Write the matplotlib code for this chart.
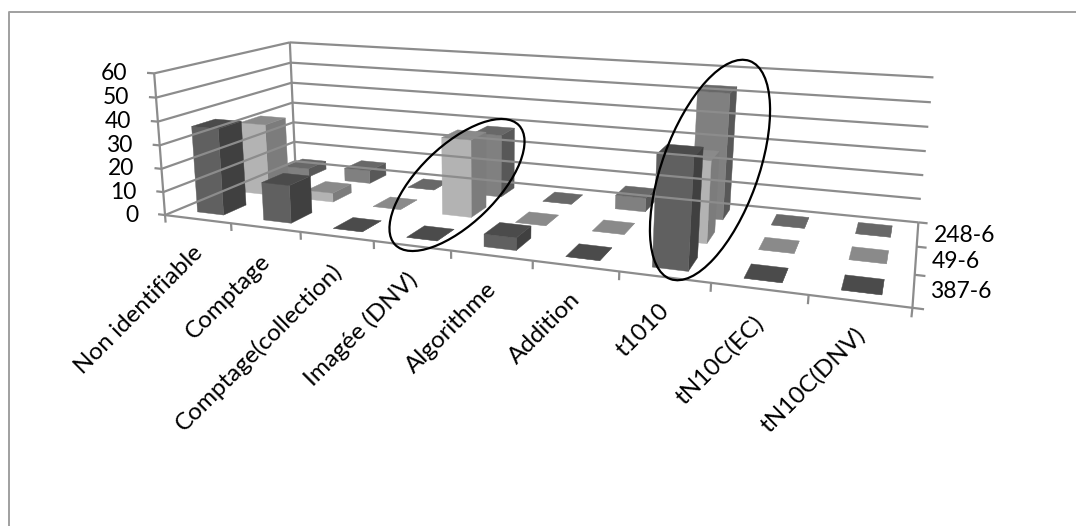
import matplotlib
matplotlib.use('Agg')
import matplotlib.pyplot as plt
from matplotlib.patches import Ellipse
import numpy as np

plt.rcParams['font.family'] = ['Lato', 'DejaVu Sans']

# Data
categories = ['Non identifiable', 'Comptage', 'Comptage(collection)', 'Imagée (DNV)',
              'Algorithme', 'Addition', 't1010', 'tN10C(EC)', 'tN10C(DNV)']
series_names = ['387-6', '49-6', '248-6']
serie_387 = [37, 16, 0, 0, 5, 0, 42, 0, 0]
serie_49 = [32, 4, 0, 33, 0, 0, 33, 0, 0]
serie_248 = [4, 6, 0, 28, 0, 6, 53, 0, 0]
z_ticks = [0, 10, 20, 30, 40, 50, 60]
z_max = 60

# front, top, side colours of each series
colores = [('#606060', '#4b4b4b', '#404040'),
           ('#b3b3b3', '#8a8a8a', '#7c7c7c'),
           ('#808080', '#686868', '#585858')]
color_eje = '#8c8c8c'

# Camera fitted on the chart box corners and ticks: (x, y, z) in box units -> pixels
x_ticks_px = [166, 232, 301, 374, 451, 533, 619, 711, 808, 912]
puntos = [((0, 1, 0), (293, 161)), ((1, 1, 0), (918, 222)), ((0, 1, 1), (292, 43)),
          ((1, 1, 1), (933, 77)), ((0, 0, 1), (152, 73)),
          ((1, 1/3, 0), (915, 275)), ((1, 2/3, 0), (918, 247))]
for i, px in enumerate(x_ticks_px):
    puntos.append(((i / 9, 0, 0), (px, 215 + (px - 166) * 93 / 746)))

A, b = [], []
for (x, y, z), (u, v) in puntos:
    A.append([x, y, z, 1, 0, 0, 0, 0, -u * x, -u * y, -u * z])
    A.append([0, 0, 0, 0, x, y, z, 1, -v * x, -v * y, -v * z])
    b += [u, v]
p = np.linalg.lstsq(np.array(A, float), np.array(b, float), rcond=None)[0]
P = np.append(p, 1).reshape(3, 4)


def proyectar(x, y, z):
    w = P @ np.array([x, y, z, 1.0])
    return w[0] / w[2], w[1] / w[2]


def linea(a, b, **kw):
    pa, pb = proyectar(*a), proyectar(*b)
    ax.plot([pa[0], pb[0]], [pa[1], pb[1]], color=color_eje, lw=1.6, solid_capstyle='butt', **kw)


def cara(puntos3d, color):
    xy = [proyectar(*q) for q in puntos3d]
    ax.fill([q[0] for q in xy], [q[1] for q in xy], color=color, lw=0.3)


def barra(i, s, valor, cols):
    n, m = len(categories), len(series_names)
    ancho, fondo = 0.40 / n, 0.48 / m
    x0 = (i + 0.5) / n - ancho / 2
    x1 = x0 + ancho
    y0 = (s + 0.5) / m - fondo / 2
    y1 = y0 + fondo
    z = valor / z_max
    front, top, side = cols
    cara([(x1, y0, 0), (x1, y1, 0), (x1, y1, z), (x1, y0, z)], side)
    cara([(x0, y0, 0), (x1, y0, 0), (x1, y0, z), (x0, y0, z)], front)
    cara([(x0, y0, z), (x1, y0, z), (x1, y1, z), (x0, y1, z)], top)


fig = plt.figure(figsize=(10.76, 5.26), dpi=100)
ax = fig.add_axes([0, 0, 1, 1])
ax.set_xlim(0, 1076)
ax.set_ylim(526, 0)
ax.axis('off')

# Chart frame: only the top and left edges are visible in the crop
ax.plot([9, 9, 1076], [526, 11.5, 11.5], color='#a0a0a0', lw=1.4)

# Walls and grid
for t in z_ticks:
    z = t / z_max
    linea((0, 0, z), (0, 1, z))
    linea((0, 1, z), (1, 1, z))
    linea((0, 0, z), (-0.012, 0, z))
    u, v = proyectar(0, 0, z)
    ax.text(u - 27, v, str(t), ha='right', va='center', fontsize=16.5, color='black')
linea((0, 0, 0), (0, 0, 1))
linea((0, 1, 0), (0, 1, 1))
linea((1, 0, 0), (1, 1, 0))
linea((0, 0, 0), (1, 0, 0))

for i in range(len(categories) + 1):
    linea((i / 9, 0, 0), (i / 9, 0, -0.055))
for s in range(len(series_names) + 1):
    linea((1, s / 3, 0), (1.012, s / 3, 0))

# Bars from back to front
valores = [serie_387, serie_49, serie_248]
for s in range(len(series_names) - 1, -1, -1):
    for i in range(len(categories)):
        barra(i, s, valores[s][i], colores[s])

for i, nombre in enumerate(categories):
    u, v = proyectar((i + 0.5) / 9, 0, 0)
    ax.text(u - 6, v + 23, nombre, rotation=45, rotation_mode='anchor', ha='right', va='top',
            fontsize=17.5, color='black')

for s, nombre in enumerate(series_names):
    u, v = proyectar(1, (s + 0.5) / 3, 0)
    ax.text(u + 16, v + 1, nombre, ha='left', va='center', fontsize=16.5, color='black')

# Hand drawn ellipses around the highlighted groups
ax.add_patch(Ellipse((457, 185), 172, 78, angle=-44, fill=False, edgecolor='black', lw=1.6, zorder=5))
ax.add_patch(Ellipse((710, 170), 232, 96, angle=-70, fill=False, edgecolor='black', lw=1.6, zorder=5))

fig.savefig('out.png', dpi=100)
